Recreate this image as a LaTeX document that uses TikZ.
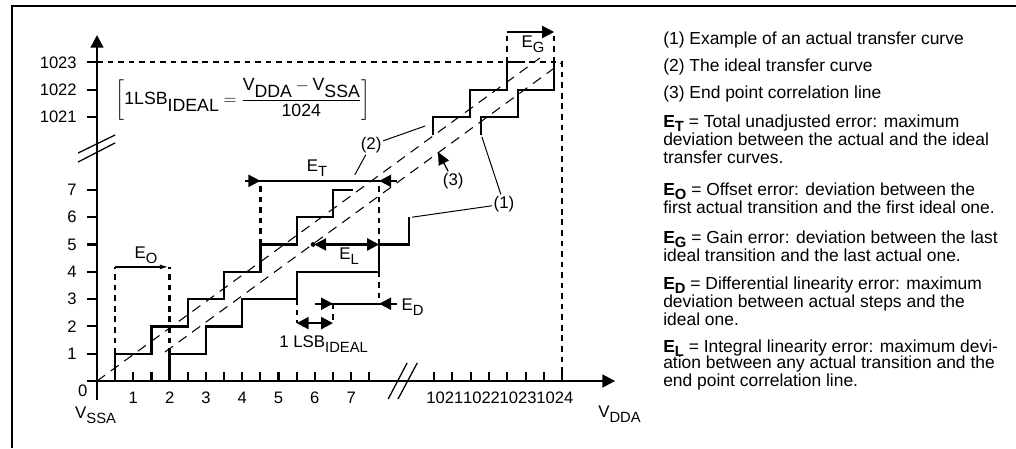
\documentclass[tikz,border=0pt]{standalone}
\usepackage{amsmath}
\usepackage{fontspec}
\setmainfont{Liberation Sans}
\usepackage{tikz}
\usetikzlibrary{arrows.meta,positioning}

\newcommand{\lo}[1]{\raisebox{-3.5pt}{\fontsize{10.5}{10.5}\selectfont #1}}
\newcommand{\lolegend}[1]{\raisebox{-2.8pt}[\height][0pt]{\fontsize{10.5}{10.5}\selectfont #1}}
\newcommand{\lofull}[1]{\raisebox{-5pt}{#1}}

\begin{document}
\begin{tikzpicture}[
        x=0.025cm, y=-0.025cm,
        font=\fontsize{12}{12.6}\selectfont,
        frame/.style={line width=1.5pt},
        axis/.style={line width=1.7pt, -{Triangle[length=9pt,width=9pt]}},
        tick/.style={line width=1.5pt},
        stair/.style={line width=1.6pt},
        guide/.style={line width=1.6pt, dash pattern=on 4pt off 3.5pt},
        diag/.style={line width=0.75pt, dash pattern=on 7pt off 5pt},
        err/.style={line width=1.6pt},
        tip/.style={line width=1.6pt, -{Triangle[length=8.5pt,width=8.5pt]}},
        twotip/.style={line width=1.6pt, {Triangle[length=8.5pt,width=8.5pt]}-{Triangle[length=8.5pt,width=8.5pt]}},
        leader/.style={line width=0.7pt},
        lbl/.style={inner sep=1pt},
        ticklbl/.style={inner sep=0pt, font=\fontsize{11.8}{12}\selectfont},
        legend/.style={anchor=north west, inner sep=0pt, align=left, font=\fontsize{12.4}{12.6}\selectfont}
      ]
        \useasboundingbox (0,0) rectangle (1016,448);

        % Frame
        \draw [frame] (12,448) -- (12,6) -- (1016,6);

        \begin{scope}[shift={(97,381)}, x=0.9075cm, y=0.6825cm]
        % Axes
        \draw [axis] (0,-0.7) -- (0,12.67);
        \draw [axis] (-0.28,0) -- (14.27,0);

        % Ticks and values
        \foreach \yv in {1,...,7}
          \draw [tick] (-0.28,\yv) -- (0,\yv) node [ticklbl, anchor=east] at (-0.53,\yv) {\yv};
        \foreach \yval/\yv in {1021/9.67,1022/10.67,1023/11.67}
          \draw [tick] (-0.28,\yv) -- (0,\yv) node [ticklbl, anchor=east] at (-0.53,\yv) {\yval};
        \foreach \xv in {0.5,1,...,7.5}
          \draw [tick] (\xv,0) -- (\xv,0.33);
        \foreach \xv in {1,...,7}
          \node [ticklbl, anchor=north] at (\xv,-0.4) {\xv};
        \foreach \k in {0,...,7}
          \draw [tick] (9.28+0.505*\k,0) -- (9.28+0.505*\k,0.33);
        \foreach \xval [count=\i] in {1021,1022,1023,1024}
          \node [ticklbl, anchor=north] at (8.57+1.01*\i,-0.4) {\xval};
        \node [ticklbl] (zero) at (-0.39,-0.37) {0};
        \node (vssa) at (-0.04,-1.26) {V\lo{SSA}};
        \node (vdda) at (14.39,-1.23) {V\lo{DDA}};

        % Axis breaks
        \draw [leader, line width=0.9pt] (-0.52,8.35) -- (0.5,9.01);
        \draw [leader, line width=0.9pt] (-0.52,8.02) -- (0.5,8.72);
        \draw [leader, line width=0.9pt] (8.02,-0.66) -- (8.54,0.66);
        \draw [leader, line width=0.9pt] (8.29,-0.66) -- (8.82,0.66);

        % Full scale
        \draw [guide] (0,11.67) -- (12.81,11.67) -- (12.81,0);

        % Ideal transfer curve
        \draw [stair] (0.5,0) -- (0.5,1) -| (1.5,2) -| (2.5,3) -| (3.5,4) -| (4.5,5) -| (5.5,6) -| (6.5,7) -- (7.05,7);
        \draw [stair] (9.26,9.0) -- (9.26,9.67) -| (10.27,10.67) -| (11.29,11.67) -- (11.8,11.67);

        % Actual transfer curve
        \draw [stair] (2,0) -- (2,1) -| (3,2) -| (4,3) -| (5.5,4) -| (7.77,5) -| (8.6,6);
        \draw [stair] (10.58,9.0) -- (10.58,9.67) -| (11.6,10.67) -| (12.59,11.67);

        % Straight lines
        \draw [diag] (0,0) -- (12.2,11.83);
        \draw [diag] (1.87,1.06) -- (12.81,11.67);

        % Offset error
        \coordinate (eoA) at (0.5,4.18);
        \coordinate (eoB) at (2,4.18);
        \draw [guide] (0.5,1) -- (eoA);
        \draw [guide] (2,1) -- (eoB);
        \draw [line width=1.5pt, -{Latex[length=7pt,width=3.5pt]}] (eoA) -- (eoB);
        \node [lbl] (eolbl) at (1.35,4.6) {E\lo{O}};

        % Total unadjusted error
        \coordinate (etL) at (4.5,7.33);
        \coordinate (etR) at (7.77,7.33);
        \draw [guide] (4.5,5) -- (etL);
        \draw [guide] (7.77,5) -- (etR);
        \draw [err] (4.08,7.33) -- (8.26,7.33);
        \draw [tip] (4.08,7.33) -- (etL);
        \draw [tip] (8.26,7.33) -- (etR);
        \node [lbl] (etlbl) at (6.06,7.8) {E\lo{T}};

        % Integral linearity error
        \coordinate (elA) at (5.95,5);
        \coordinate (elB) at (7.77,5);
        \fill (elA) circle (1.7pt);
        \draw [twotip, shorten <=0.8pt] (elA) -- (elB);
        \node [lbl] (ellbl) at (6.94,4.56) {E\lo{L}};

        % Differential linearity error
        \coordinate (edA) at (6.5,2.83);
        \coordinate (edB) at (7.77,2.83);
        \draw [guide] (7.77,4) -- (edB);
        \draw [guide] (edA) -- (6.5,2.12);
        \draw [err] (6.0,2.83) -- (8.26,2.83);
        \draw [tip] (6.0,2.83) -- (edA);
        \draw [tip] (8.26,2.83) -- (edB);
        \node [lbl] (edlbl) at (8.69,2.69) {E\lo{D}};

        % One LSB
        \coordinate (lsbA) at (5.5,2.12);
        \coordinate (lsbB) at (6.5,2.12);
        \draw [guide] (5.5,3) -- (lsbA);
        \draw [twotip] (lsbA) -- (lsbB);
        \node [lbl] (lsblbl) at (6.24,1.34) {1 LSB\lo{IDEAL}};

        % Gain error
        \coordinate (egA) at (11.29,12.78);
        \coordinate (egB) at (12.59,12.78);
        \draw [guide] (11.29,11.67) -- (egA);
        \draw [guide] (12.59,11.67) -- (egB);
        \draw [tip] (egA) -- (egB);
        \node [lbl] (eglbl) at (12.01,12.34) {E\lo{G}};

        % Curve labels
        \node [lbl] (curve2) at (7.55,8.64) {(2)};
        \node [lbl] (curve3) at (9.81,7.33) {(3)};
        \node [lbl] (curve1) at (11.21,6.48) {(1)};
        \coordinate (ideal2hi) at (9.04,9.34);
        \coordinate (ideal2lo) at (7.1,7.55);
        \coordinate (corr3) at (9.39,8.39);
        \coordinate (act1hi) at (10.6,8.94);
        \coordinate (act1lo) at (8.68,6.0);
        \draw [leader] (curve2) -- (ideal2hi);
        \draw [leader] (curve2) -- (ideal2lo);
        \draw [line width=0.9pt, -{Triangle[length=9pt,width=8pt]}] (curve3) -- (corr3);
        \draw [leader] (curve1) -- (act1hi);
        \draw [leader] (curve1) -- (act1lo);

        % Formula
        \node [font=\fontsize{12.6}{13}\selectfont] (lsbformula) at (4.02,10.31) {$\left[\text{1LSB\lofull{IDEAL}} = \dfrac{\text{V\lofull{DDA}}-\text{V\lofull{SSA}}}{\text{1024}}\right]$};
        \end{scope}

        % Legend
        \node [legend] (leg1) at (663,32) {(1) Example of an actual transfer curve};
        \node [legend] (leg2) at (663,59) {(2) The ideal transfer curve};
        \node [legend] (leg3) at (663,86) {(3) End point correlation line};
        \node [legend] (legT) at (663,115) {\textbf{E\lolegend{T}} = Total unadjusted error: maximum\\deviation between the actual and the ideal\\transfer curves.};
        \node [legend] (legO) at (663,183) {\textbf{E\lolegend{O}} = Offset error: deviation between the\\first actual transition and the first ideal one.};
        \node [legend] (legG) at (663,231) {\textbf{E\lolegend{G}} = Gain error: deviation between the last\\ideal transition and the last actual one.};
        \node [legend] (legD) at (663,277) {\textbf{E\lolegend{D}} = Differential linearity error: maximum\\deviation between actual steps and the\\ideal one.};
        \node [legend] (legL) at (663,340) {\textbf{E\lolegend{L}} = Integral linearity error: maximum devi-\\[-1.5pt]ation between any actual transition and the\\end point correlation line.};
      \end{tikzpicture}
\end{document}
